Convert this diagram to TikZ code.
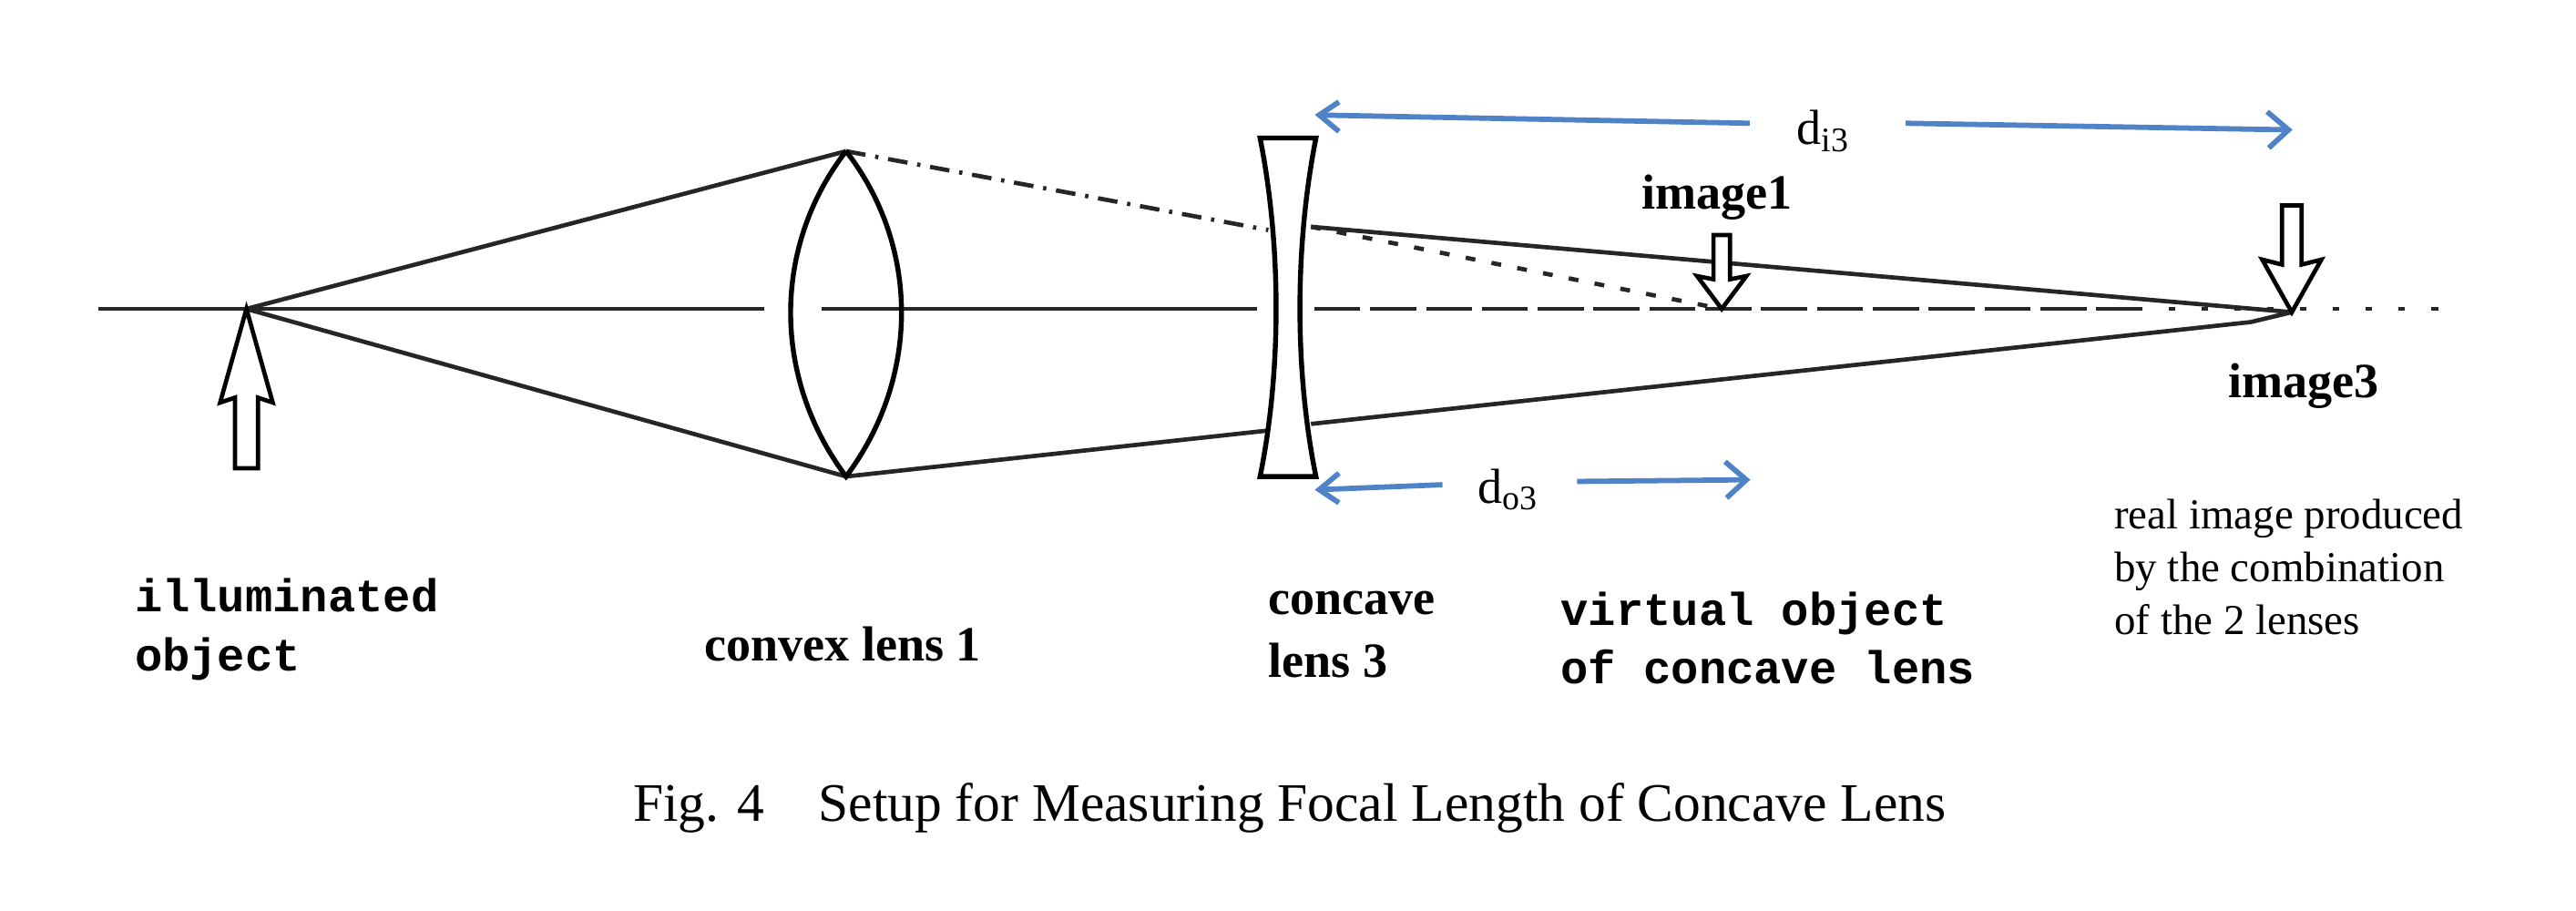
\documentclass[tikz,border=0pt]{standalone}
\usepackage{fontspec}
\setmainfont{Liberation Serif}
\newfontfamily\mono{Liberation Mono}
\begin{document}
\begin{tikzpicture}[x=0.5pt,y=-0.5pt,
  ray/.style={line width=1.3pt,black!85},
  lens/.style={line width=1.5pt},
  blue/.style={line width=1.6pt,color={rgb,255:red,80;green,130;blue,200}},
  bt/.style={font=\fontsize{15}{16}\selectfont\bfseries},
  tt/.style={font=\fontsize{14}{18}\selectfont\mono\bfseries,align=left},
  harrow/.style={line width=1.3pt,fill=white}]
\useasboundingbox (0,0) rectangle (1568,554);
% points
\coordinate (obj) at (150,188);
\coordinate (ltop) at (515,92);
\coordinate (lbot) at (515,290);
\coordinate (ctop) at (772,140);
\coordinate (cbot) at (772,262);
\coordinate (ctop2) at (798,138);
\coordinate (cbot2) at (798,258);
\coordinate (im1) at (1048,188);
\coordinate (im3) at (1395,190);
% axis
\draw[ray] (60,188) -- (465,188);
\draw[ray] (500,188) -- (765,188);
\draw[ray,dash pattern=on 14pt off 3pt] (800,188) -- (1300,188);
\draw[ray,dash pattern=on 2pt off 8pt] (1300,188) -- (1495,188);
% rays
\draw[ray] (obj) -- (ltop);
\draw[ray] (obj) -- (lbot);
\draw[ray,dash pattern=on 6pt off 3pt on 1pt off 3pt] (ltop) -- (ctop);
\draw[ray] (lbot) -- (cbot);
\draw[ray] (ctop2) -- (im3);
\draw[ray] (cbot2) -- (1370,196) -- (im3);
\draw[ray,dash pattern=on 3pt off 5pt] (ctop2) -- (im1);
% convex lens
\draw[lens] (ltop) .. controls (470,150) and (470,230) .. (lbot)
  .. controls (560,230) and (560,150) .. (ltop);
% concave lens
\draw[lens] (767,84) -- (801,84) .. controls (788,150) and (788,226) .. (801,290)
  -- (767,290) .. controls (780,226) and (780,150) .. (767,84) -- cycle;
% object arrow (up)
\draw[harrow] (obj) -- (166,245) -- (157,242) -- (157,285) -- (143,285) -- (143,242) -- (134,245) -- cycle;
% image1 arrow (down)
\draw[harrow] (im1) -- (1063,168) -- (1053,170) -- (1053,143) -- (1043,143) -- (1043,170) -- (1033,168) -- cycle;
% image3 arrow (down)
\draw[harrow] (im3) -- (1413,158) -- (1401,161) -- (1401,125) -- (1389,125) -- (1389,161) -- (1377,158) -- cycle;
% blue dimension arrows
\node[font=\fontsize{15}{16}\selectfont] (di) at (1110,80) {d\textsubscript{i3}};
\draw[blue] (1065,75) -- (803,70);
\draw[blue] (815,62) -- (803,70) -- (815,80);
\draw[blue] (1160,75) -- (1393,79);
\draw[blue] (1380,68) -- (1393,79) -- (1381,90);
\node[font=\fontsize{15}{16}\selectfont] (do) at (918,298) {d\textsubscript{o3}};
\draw[blue] (878,295) -- (803,298);
\draw[blue] (815,288) -- (803,298) -- (815,306);
\draw[blue] (960,293) -- (1063,292);
\draw[blue] (1050,281) -- (1063,292) -- (1051,303);
% labels
\node[bt] (l1) at (1045,120) {image1};
\node[bt] (l3) at (1402,235) {image3};
\node[tt,anchor=north west] (lo) at (75,345) {illuminated\\object};
\node[bt] (lc) at (513,392) {convex lens 1};
\node[bt,align=left,anchor=north west,font=\fontsize{15}{19}\selectfont\bfseries] (lk) at (765,353) {concave\\lens 3};
\node[tt,anchor=north west] (lv) at (943,353) {virtual object\\of concave lens};
\node[align=left,anchor=north west,font=\fontsize{13}{16}\selectfont] (lr) at (1280,297) {real image produced\\by the combination\\of the 2 lenses};
\node[font=\fontsize{16.5}{18}\selectfont] (cap) at (785,492) {Fig. 4\quad Setup for Measuring Focal Length of Concave Lens};
\end{tikzpicture}
\end{document}
